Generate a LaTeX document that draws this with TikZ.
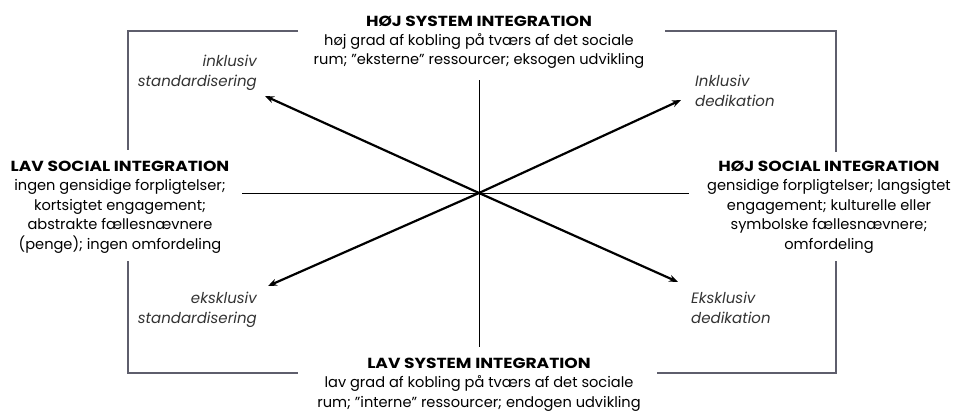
\documentclass[tikz,border=0pt]{standalone}
\usepackage{fontspec}
\setmainfont{Poppins}
\newfontfamily\headfont[FakeStretch=1.17]{Poppins}
\usetikzlibrary{arrows.meta,positioning}

\definecolor{framegray}{HTML}{5E5E6C}
\definecolor{labelgray}{HTML}{333333}

\newcommand{\polehead}[1]{{\headfont\bfseries #1}}

\begin{document}
\begin{tikzpicture}[
    x=1pt,y=-1pt,
    block/.style={align=center,inner sep=0pt,anchor=base,font=\fontsize{14.6}{19.4}\selectfont},
    corner/.style={align=left,inner sep=0pt,anchor=base west,text=labelgray,font=\itshape\fontsize{15}{19.6}\selectfont},
    cornerr/.style={corner,align=right,anchor=base east},
    frame/.style={framegray,line width=1.6pt},
    axis/.style={black,line width=0.8pt},
    arrow/.style={line width=2.2pt,-{Stealth[length=9pt,width=7pt]}}
]
    \useasboundingbox (0,0) rectangle (958,412);

    % the four poles (anchored on the last line)
    \node[block] (hsys) at (479,65) {\polehead{HØJ SYSTEM INTEGRATION}\\høj grad af kobling på tværs af det sociale\\rum; ”eksterne” ressourcer; eksogen udvikling};
    \node[block] (lsys) at (479,407) {\polehead{LAV SYSTEM INTEGRATION}\\lav grad af kobling på tværs af det sociale\\rum; ”interne” ressourcer; endogen udvikling};
    \node[block] (lsoc) at (120,249) {\polehead{LAV SOCIAL INTEGRATION}\\ingen gensidige forpligtelser;\\kortsigtet engagement;\\abstrakte fællesnævnere\\(penge); ingen omfordeling};
    \node[block] (hsoc) at (829,249) {\polehead{HØJ SOCIAL INTEGRATION}\\gensidige forpligtelser; langsigtet\\engagement; kulturelle eller\\symbolske fællesnævnere;\\omfordeling};

    % the four quadrants
    \node[cornerr] (inkstd) at (257,86) {inklusiv\\standardisering};
    \node[corner] (inkded) at (695,106) {Inklusiv\\dedikation};
    \node[cornerr] (ekstd) at (257,323) {eksklusiv\\standardisering};
    \node[corner] (ekded) at (691,323) {Eksklusiv\\dedikation};

    % axes
    \coordinate (c) at (479,193);
    \coordinate (atop) at (479,80);
    \coordinate (abot) at (479,347);
    \coordinate (aleft) at (242,193);
    \coordinate (aright) at (689,193);
    \draw[axis] (atop) -- (abot);
    \draw[axis] (aleft) -- (aright);

    % brackets
    \draw[frame] (298,31) -- (128,31) -- (128,150);
    \draw[frame] (665,31) -- (836,31) -- (836,152);
    \draw[frame] (128,261) -- (128,373) -- (298,373);
    \draw[frame] (836,261) -- (836,373) -- (657,373);

    % arrows
    \coordinate (tipul) at (265,96);
    \coordinate (tipur) at (681,100);
    \coordinate (tipll) at (268,286);
    \coordinate (tiplr) at (678,282);
    \draw[arrow] (c) -- (tipul);
    \draw[arrow] (c) -- (tipur);
    \draw[arrow] (c) -- (tipll);
    \draw[arrow] (c) -- (tiplr);
\end{tikzpicture}
\end{document}
